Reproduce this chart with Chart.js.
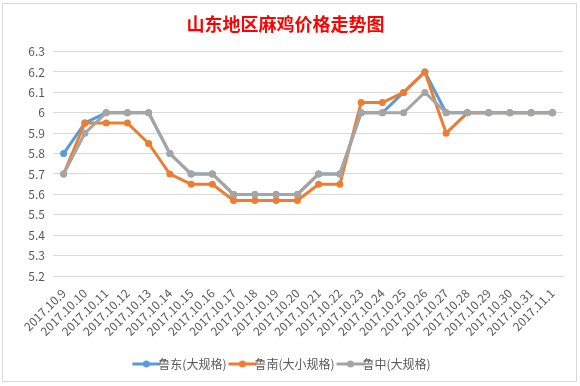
<!DOCTYPE html>
<html>
<head>
<meta charset="utf-8">
<script src="https://cdn.jsdelivr.net/npm/chart.js@4.4.1/dist/chart.umd.min.js"></script>
<style>
  html, body { margin: 0; padding: 0; background: #fff; }
  #wrap { width: 580px; height: 386px; }
</style>
</head>
<body>
<div id="wrap"><canvas id="chart" width="580" height="386"></canvas></div>
<script>
const dates = ["2017.10.9","2017.10.10","2017.10.11","2017.10.12","2017.10.13","2017.10.14",
  "2017.10.15","2017.10.16","2017.10.17","2017.10.18","2017.10.19","2017.10.20","2017.10.21",
  "2017.10.22","2017.10.23","2017.10.24","2017.10.25","2017.10.26","2017.10.27","2017.10.28",
  "2017.10.29","2017.10.30","2017.10.31","2017.11.1"];

const ludong = [5.8,5.95,6.0,6.0,6.0,5.8,5.7,5.7,5.6,5.6,5.6,5.6,5.7,5.7,6.0,6.0,6.1,6.2,6.0,6.0,6.0,6.0,6.0,6.0];
const lunan = [5.7,5.95,5.95,5.95,5.85,5.7,5.65,5.65,5.57,5.57,5.57,5.57,5.65,5.65,6.05,6.05,6.1,6.2,5.9,6.0,6.0,6.0,6.0,6.0];
const luzhong = [5.7,5.9,6.0,6.0,6.0,5.8,5.7,5.7,5.6,5.6,5.6,5.6,5.7,5.7,6.0,6.0,6.0,6.1,6.0,6.0,6.0,6.0,6.0,6.0];

const seriesNames = ["鲁东(大规格)", "鲁南(大小规格)", "鲁中(大规格)"];
const colors = ["#5B9BD5", "#ED7D31", "#A5A5A5"];

const font = "'Noto Sans CJK SC', 'Noto Sans', sans-serif";

// little line+dot markers for the legend, like Excel
function legendMarker(color) {
  const c = document.createElement("canvas");
  c.width = 30; c.height = 10;
  const g = c.getContext("2d");
  g.strokeStyle = color;
  g.lineWidth = 3;
  g.beginPath(); g.moveTo(1, 5); g.lineTo(29, 5); g.stroke();
  g.fillStyle = color;
  g.beginPath(); g.arc(15, 5, 3.5, 0, Math.PI * 2); g.fill();
  return c;
}

const framePlugin = {
  id: "frame",
  beforeDraw(chart) {
    const ctx = chart.ctx;
    ctx.save();
    ctx.fillStyle = "#fff";
    ctx.fillRect(0, 0, chart.width, chart.height);
    ctx.strokeStyle = "#D9D9D9";
    ctx.lineWidth = 1;
    ctx.strokeRect(2.5, 3.5, 574, 378);
    ctx.restore();
  }
};

function makeSet(i, data, order) {
  return {
    label: seriesNames[i],
    data: data,
    borderColor: colors[i],
    backgroundColor: colors[i],
    borderWidth: 3,
    pointRadius: 3.5,
    pointHoverRadius: 3.5,
    pointBorderWidth: 0,
    tension: 0,
    order: order
  };
}

new Chart(document.getElementById("chart"), {
  type: "line",
  data: {
    labels: dates,
    datasets: [makeSet(0, ludong, 3), makeSet(1, lunan, 2), makeSet(2, luzhong, 1)]
  },
  options: {
    responsive: false,
    animation: false,
    layout: { padding: { left: 8, right: 17, top: 0, bottom: 6 } },
    plugins: {
      title: {
        display: true,
        text: "山东地区麻鸡价格走势图",
        color: "#FF0000",
        font: { family: font, size: 18, weight: "bold" },
        padding: { top: 13, bottom: 17 }
      },
      legend: {
        position: "bottom",
        labels: {
          color: "#595959",
          font: { family: font, size: 12 },
          usePointStyle: true,
          boxWidth: 30,
          boxHeight: 10,
          padding: 10,
          sort: (a, b) => a.datasetIndex - b.datasetIndex,
          generateLabels(chart) {
            const items = Chart.defaults.plugins.legend.labels.generateLabels(chart);
            items.forEach(it => { it.pointStyle = legendMarker(colors[it.datasetIndex]); });
            return items;
          }
        }
      },
      tooltip: { enabled: false }
    },
    scales: {
      x: {
        offset: true,
        grid: { display: false },
        border: { display: true, color: "#D9D9D9" },
        ticks: {
          color: "#595959",
          font: { family: font, size: 12 },
          minRotation: 45,
          maxRotation: 45,
          autoSkip: false,
          padding: 2
        },
        afterFit(scale) { scale.height = 72; }
      },
      y: {
        min: 5.2,
        max: 6.3,
        grid: { color: "#D9D9D9", drawTicks: false },
        border: { display: false },
        ticks: {
          stepSize: 0.1,
          color: "#595959",
          font: { family: font, size: 12 },
          padding: 8,
          callback: v => String(Number(v.toFixed(1)))
        },
        afterFit(scale) { scale.width = 45; }
      }
    }
  },
  plugins: [framePlugin]
});
</script>
</body>
</html>
